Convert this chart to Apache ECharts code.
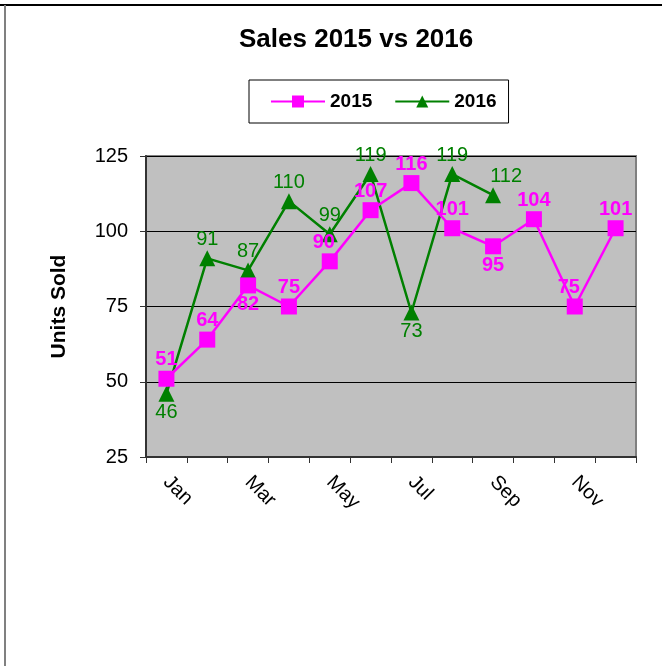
<!DOCTYPE html>
<html>
<head>
<meta charset="utf-8">
<script src="https://cdn.jsdelivr.net/npm/echarts@6/dist/echarts.min.js"></script>
<style>
  html, body { margin: 0; padding: 0; background: #fff; }
  #chart { width: 662px; height: 666px; }
</style>
</head>
<body>
<div id="chart"></div>
<script>
// Monthly units sold
const months = ['Jan', 'Feb', 'Mar', 'Apr', 'May', 'Jun', 'Jul', 'Aug', 'Sep', 'Oct', 'Nov', 'Dec'];
const sales2015 = [51, 64, 82, 75, 90, 107, 116, 101, 95, 104, 75, 101];
const sales2016 = [46, 91, 87, 110, 99, 119, 73, 119, 112];
// Which points carry their value label underneath the marker
const below2015 = [false, false, true, false, false, false, false, false, true, false, false, false];
const below2016 = [true, false, false, false, false, false, true, false, false];
const yTicks = [25, 50, 75, 100, 125];

const FONT = 'Liberation Sans, Arial, sans-serif';
const PINK = '#FF00FF';
const GREEN = '#008000';

function withLabelPos(values, below, extra) {
  return values.map((v, i) => {
    const item = { value: v };
    if (below[i]) item.label = { position: 'bottom' };
    if (extra && extra[i]) item.label = Object.assign(item.label || {}, extra[i]);
    return item;
  });
}

const chart = echarts.init(document.getElementById('chart'), null, { renderer: 'canvas' });

chart.setOption({
  backgroundColor: '#ffffff',
  animation: false,
  title: {
    text: 'Sales 2015 vs 2016',
    left: 239,
    top: 27,
    padding: 0,
    textStyle: { fontFamily: FONT, fontSize: 26, fontWeight: 'bold', color: '#000' }
  },
  legend: {
    top: 80,
    left: 249,
    padding: [12, 12, 12, 21],
    borderColor: '#000',
    borderWidth: 1,
    itemGap: 22,
    itemWidth: 54,
    itemHeight: 15,
    textStyle: { fontFamily: FONT, fontSize: 19, fontWeight: 'bold', color: '#000' },
    data: ['2015', '2016']
  },
  graphic: [
    { type: 'line', shape: { x1: 0, y1: 5, x2: 662, y2: 5 }, style: { stroke: '#000', lineWidth: 2 } },
    { type: 'line', shape: { x1: 5, y1: 5, x2: 5, y2: 666 }, style: { stroke: '#808080', lineWidth: 2 } }
  ],
  grid: {
    left: 146,
    top: 156,
    width: 490,
    height: 301,
    show: true,
    backgroundColor: '#C0C0C0',
    borderColor: '#808080',
    borderWidth: 2
  },
  xAxis: {
    type: 'category',
    data: months,
    boundaryGap: true,
    axisLine: { lineStyle: { color: '#333', width: 2 } },
    axisTick: { show: true, length: 6, interval: 0, lineStyle: { color: '#333' } },
    axisLabel: {
      interval: 1,
      rotate: -45,
      margin: 22,
      fontFamily: FONT,
      fontSize: 20,
      color: '#000'
    },
    splitLine: { show: false }
  },
  yAxis: {
    type: 'value',
    min: yTicks[0],
    max: yTicks[yTicks.length - 1],
    interval: 25,
    name: 'Units Sold',
    nameLocation: 'middle',
    nameGap: 76,
    nameRotate: 90,
    nameTextStyle: { fontFamily: FONT, fontSize: 21, fontWeight: 'bold', color: '#000' },
    axisLine: { show: true, lineStyle: { color: '#333', width: 2 } },
    axisTick: { show: true, length: 6, lineStyle: { color: '#333' } },
    axisLabel: { margin: 18, fontFamily: FONT, fontSize: 20, color: '#000' },
    splitLine: { show: true, lineStyle: { color: '#000', width: 1 } }
  },
  series: [
    {
      name: '2015',
      type: 'line',
      data: withLabelPos(sales2015, below2015, { 4: { offset: [-6, 0] }, 10: { offset: [-6, 0] } }),
      symbol: 'rect',
      symbolSize: 16,
      itemStyle: { color: PINK },
      lineStyle: { color: PINK, width: 2.5 },
      z: 3,
      label: {
        show: true,
        position: 'top',
        distance: 1,
        fontFamily: FONT,
        fontSize: 20,
        fontWeight: 'bold',
        color: PINK
      }
    },
    {
      name: '2016',
      type: 'line',
      data: withLabelPos(sales2016, below2016, { 8: { offset: [13, 0] } }),
      symbol: 'triangle',
      symbolSize: 16,
      itemStyle: { color: GREEN },
      lineStyle: { color: GREEN, width: 2.5 },
      z: 2,
      label: {
        show: true,
        position: 'top',
        distance: 1,
        fontFamily: FONT,
        fontSize: 20,
        color: GREEN
      }
    }
  ]
});
</script>
</body>
</html>
